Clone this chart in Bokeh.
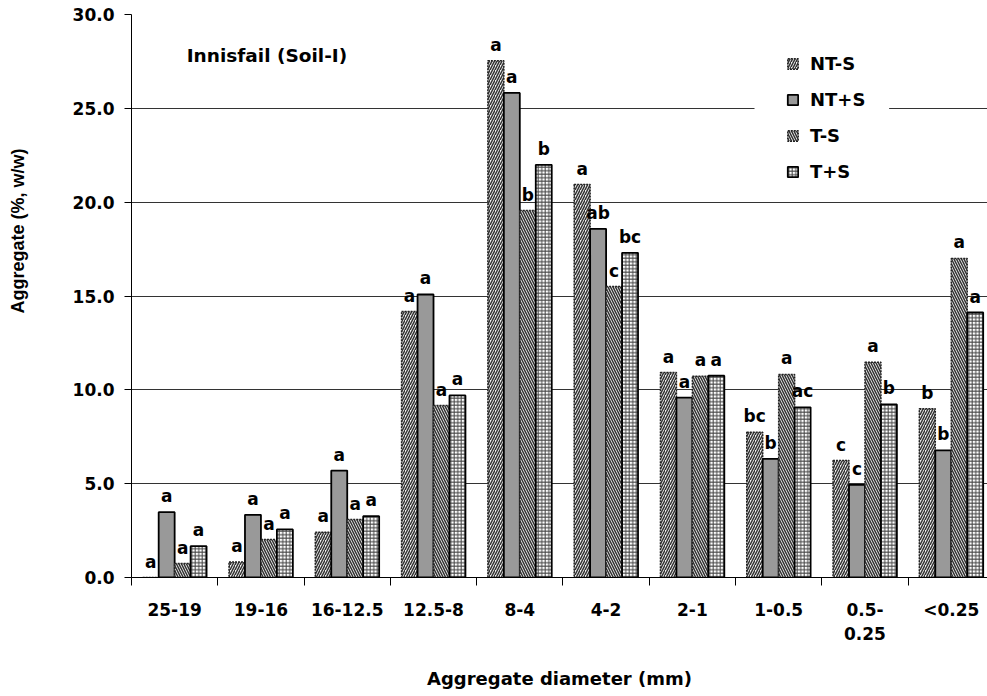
from bokeh.plotting import figure
from bokeh.models import (Range1d, FixedTicker, Legend, LegendItem, Label, Title,
                          BoxAnnotation, ColumnDataSource, NumeralTickFormatter)
from bokeh.core.properties import value
from bokeh.transform import dodge
from bokeh.embed import file_html
from bokeh.resources import INLINE

# ---------------- data ----------------
categories = ["25-19", "19-16", "16-12.5", "12.5-8", "8-4", "4-2", "2-1",
              "1-0.5", "0.5-\n0.25", "<0.25"]
series = ["NT-S", "NT+S", "T-S", "T+S"]

nt_minus_s = [0.0, 0.82, 2.41, 14.17, 27.54, 20.94, 10.92, 7.74, 6.23, 8.99]
nt_plus_s = [3.48, 3.34, 5.70, 15.08, 25.82, 18.58, 9.59, 6.32, 4.94, 6.77]
t_minus_s = [0.74, 2.02, 3.09, 9.16, 19.55, 15.50, 10.73, 10.82, 11.47, 17.00]
t_plus_s = [1.67, 2.56, 3.27, 9.70, 21.99, 17.30, 10.75, 9.07, 9.22, 14.12]

letters_nt_minus_s = ["a", "a", "a", "a", "a", "a", "a", "bc", "c", "b"]
letters_nt_plus_s = ["a", "a", "a", "a", "a", "ab", "a", "b", "c", "b"]
letters_t_minus_s = ["a", "a", "a", "a", "b", "c", "a", "a", "a", "a"]
letters_t_plus_s = ["a", "a", "a", "a", "b", "bc", "a", "ac", "b", "a"]

y_ticks = [0, 5, 10, 15, 20, 25, 30]

# ---------------- figure ----------------
FONT = "DejaVu Sans"
centers = [i + 0.5 for i in range(len(categories))]
boundaries = list(range(len(categories) + 1))

p = figure(width=987, height=696, output_backend="svg", toolbar_location=None,
           x_range=Range1d(0, 9.92), y_range=Range1d(0, 30),
           min_border_left=127, min_border_right=0, min_border_top=14,
           min_border_bottom=119)
p.outline_line_color = None
p.background_fill_color = "white"
p.border_fill_color = "white"

src = ColumnDataSource(dict(x=centers, nts=nt_minus_s, ntps=nt_plus_s,
                            ts=t_minus_s, tps=t_plus_s,
                            l1=letters_nt_minus_s, l2=letters_nt_plus_s,
                            l3=letters_t_minus_s, l4=letters_t_plus_s))

w = 0.185
offsets = [-1.5 * w, -0.5 * w, 0.5 * w, 1.5 * w]
cols = ["nts", "ntps", "ts", "tps"]
lcols = ["l1", "l2", "l3", "l4"]
styles = [
    dict(fill_color="#f2f2f2", hatch_pattern="/", hatch_scale=5, hatch_weight=1.5,
         hatch_color="#333333", line_color="#222222", line_width=1.5, line_dash="2 1"),
    dict(fill_color="#999999", line_color="black", line_width=1.8),
    dict(fill_color="#f2f2f2", hatch_pattern="\\", hatch_scale=5, hatch_weight=1.5,
         hatch_color="#333333", line_color="#222222", line_width=1.5, line_dash="2 1"),
    dict(fill_color="white", hatch_pattern="+", hatch_scale=3.5, hatch_weight=1,
         hatch_color="#444444", line_color="black", line_width=1.8),
]

renderers = []
for col, lcol, off, st in zip(cols, lcols, offsets, styles):
    r = p.vbar(x=dodge("x", off, range=p.x_range), top=col, width=w, bottom=0,
               source=src, **st)
    renderers.append(r)
    p.text(x=dodge("x", off, range=p.x_range), y=col, text=lcol, source=src,
           text_align="center", text_baseline="bottom", y_offset=-6,
           text_font=value(FONT), text_font_style="bold",
           text_font_size="17px", text_color="black")

# ---------------- axes ----------------
xa = p.xaxis[0]
xa.ticker = FixedTicker(ticks=centers, minor_ticks=boundaries)
xa.major_label_overrides = {c: lab for c, lab in zip(centers, categories)}
xa.major_tick_line_color = None
xa.major_tick_out = 0
xa.major_tick_in = 0
xa.minor_tick_out = 8
xa.minor_tick_in = 0
xa.minor_tick_line_color = "black"
xa.axis_line_color = "black"
xa.major_label_standoff = 14
xa.major_label_text_font = FONT
xa.major_label_text_font_style = "bold"
xa.major_label_text_font_size = "17px"
xa.major_label_text_color = "black"
xa.axis_label = "Aggregate diameter (mm)"
xa.axis_label_text_font = FONT
xa.axis_label_text_font_style = "bold"
xa.axis_label_text_font_size = "18px"
xa.axis_label_text_color = "black"
xa.axis_label_standoff = 21

ya = p.yaxis[0]
ya.ticker = FixedTicker(ticks=y_ticks)
ya.formatter = NumeralTickFormatter(format="0.0")
ya.major_tick_out = 7
ya.major_tick_in = 0
ya.minor_tick_line_color = None
ya.axis_line_color = "black"
ya.major_tick_line_color = "black"
ya.major_label_standoff = 10
ya.major_label_text_font = FONT
ya.major_label_text_font_style = "bold"
ya.major_label_text_font_size = "17px"
ya.major_label_text_color = "black"
# empty spacer label pushes the y title out towards the page edge
ya.axis_label = "\u00a0"
ya.axis_label_text_font_size = "18px"
ya.axis_label_standoff = 14

p.xgrid.visible = False
p.ygrid.ticker = FixedTicker(ticks=y_ticks[1:])
p.ygrid.grid_line_color = "#333333"
p.ygrid.grid_line_width = 1

# y axis title (shifted above centre as in the reference)
p.add_layout(Title(text="Aggregate (%, w/w)", align="left", offset=264,
                   text_font="Liberation Sans", text_font_style="bold",
                   text_font_size="18px", text_color="black"), "left")

# site label
p.add_layout(Label(x=0.64, y=27.8, text="Innisfail (Soil-I)",
                   text_baseline="middle", text_font=FONT,
                   text_font_style="bold", text_font_size="18.5px",
                   text_color="black"))

# white box behind legend (interrupts the gridline like the reference)
p.add_layout(BoxAnnotation(left=7.22, right=8.78, bottom=22, top=28.5,
                           fill_color="white", fill_alpha=1, line_color=None))

legend = Legend(items=[LegendItem(label=s, renderers=[r]) for s, r in zip(series, renderers)],
                location=(655, 395), glyph_width=13, glyph_height=13,
                label_height=20, spacing=15, padding=8, label_standoff=11,
                border_line_color=None, background_fill_alpha=0,
                label_text_font=FONT, label_text_font_style="bold",
                label_text_font_size="18px", label_text_color="black")
p.add_layout(legend)

open("out.html", "w").write(file_html(p, INLINE))
